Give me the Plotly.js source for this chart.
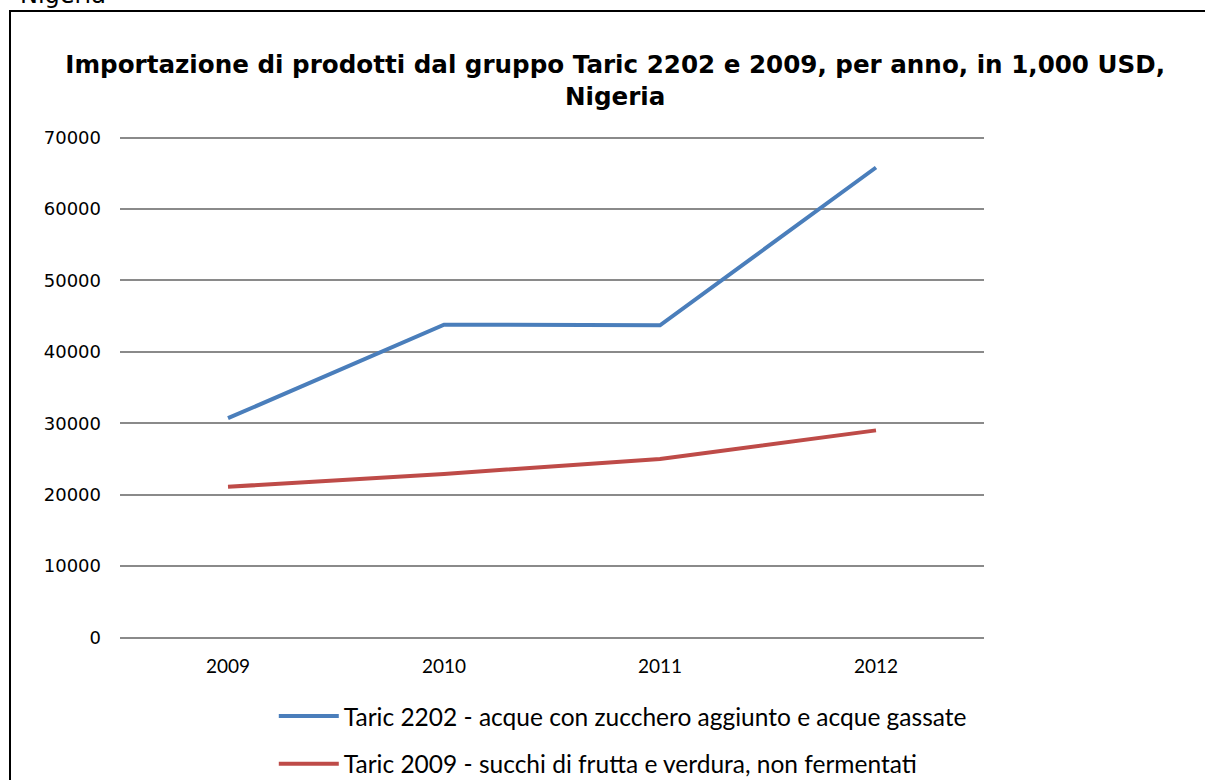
<!DOCTYPE html>
<html>
<head>
<meta charset="utf-8">
<script src="https://cdn.plot.ly/plotly-3.0.1.min.js"></script>
<style>
  html, body { margin: 0; padding: 0; background: #fff; overflow: hidden; }
  #wrap { position: relative; width: 1205px; height: 780px; }
  #chart { position: absolute; left: 0; top: 0; width: 1205px; height: 780px; }
  #frame { position: absolute; left: 9px; top: 10px; width: 1300px; height: 900px;
           border-left: 2px solid #000; border-top: 2px solid #000; pointer-events: none; }
  #above { position: absolute; left: 20px; top: -19px; font-family: "DejaVu Sans", sans-serif;
           font-size: 24px; color: #000; white-space: nowrap; }
</style>
</head>
<body>
<div id="wrap">
  <div id="chart"></div>
  <div id="frame"></div>
  <div id="above">Nigeria</div>
</div>
<script>
const years = ['2009', '2010', '2011', '2012'];
const taric2202 = [30700, 43800, 43700, 65800];
const taric2009 = [21100, 22900, 25000, 29000];
const seriesNames = [
  'Taric 2202 - acque con zucchero aggiunto e acque gassate',
  'Taric 2009 - succhi di frutta e verdura, non fermentati'
];
const yTicks = [0, 10000, 20000, 30000, 40000, 50000, 60000, 70000];

const traces = [
  { x: years, y: taric2202, name: seriesNames[0], type: 'scatter', mode: 'lines',
    line: { color: '#4a7ebb', width: 4 }, legendgroup: 'a' },
  { x: years, y: taric2009, name: seriesNames[1], type: 'scatter', mode: 'lines',
    line: { color: '#be4b48', width: 4 }, legendgroup: 'b' }
];

const layout = {
  width: 1205, height: 780,
  margin: { l: 120, r: 221, t: 135, b: 140, autoexpand: false },
  paper_bgcolor: '#fff', plot_bgcolor: '#fff',
  title: {
    text: 'Importazione di prodotti dal gruppo Taric 2202 e 2009, per anno, in 1,000 USD,<br>Nigeria',
    font: { family: 'DejaVu Sans, sans-serif', size: 24.6, color: '#000', weight: 'bold' },
    xref: 'container', x: 0.5105, xanchor: 'center',
    yref: 'container', y: 1 - 73 / 780, yanchor: 'top'
  },
  xaxis: {
    type: 'category', categoryorder: 'array', categoryarray: years,
    range: [-0.5, 3.5], showgrid: false, showline: false, zeroline: false,
    ticks: '', ticklabelstandoff: 13,
    tickfont: { family: 'Lato, sans-serif', size: 19, color: '#000' }
  },
  yaxis: {
    range: [-350, 70350], tickvals: yTicks, ticktext: yTicks.map(String),
    showgrid: true, gridcolor: '#8a8a8a', gridwidth: 2,
    zeroline: false, showline: false, ticks: '', ticklabelstandoff: 18,
    tickfont: { family: 'DejaVu Sans, sans-serif', size: 18, color: '#000' }
  },
  showlegend: true,
  legend: {
    orientation: 'v', x: 0.178, xanchor: 'left', y: -0.106, yanchor: 'top',
    tracegroupgap: 13, itemwidth: 60,
    font: { family: 'Lato, sans-serif', size: 24.5, color: '#000' },
    bgcolor: 'rgba(0,0,0,0)'
  }
};

Plotly.newPlot('chart', traces, layout, { displayModeBar: false, staticPlot: true });
</script>
</body>
</html>
